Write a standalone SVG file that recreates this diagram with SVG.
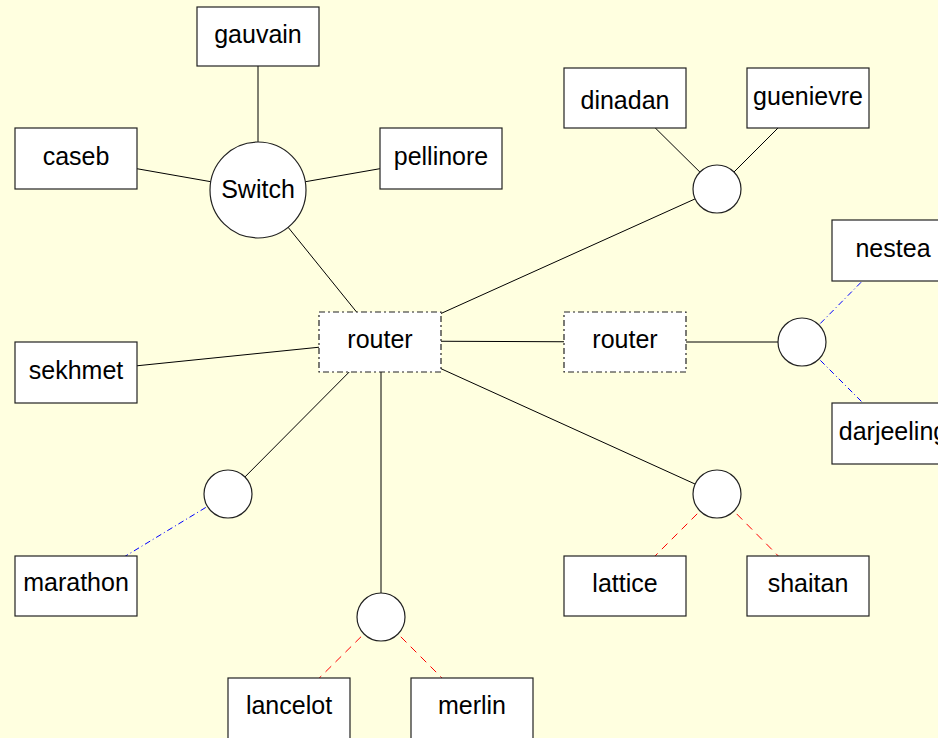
<svg xmlns="http://www.w3.org/2000/svg" width="938" height="738" viewBox="0 0 938 738">
<style>
.bg{fill:#ffffe0}
.box{fill:#fff;stroke:#222;stroke-width:1.2}
.rt{fill:#fff;stroke:#222;stroke-width:1.2;stroke-dasharray:6 3 2 3}
.hub{fill:#fff;stroke:#222;stroke-width:1.2}
.lbl{font-family:"Liberation Sans",Arial,sans-serif;font-size:25px;fill:#000;text-anchor:middle}
.e{stroke:#000;stroke-width:1;fill:none}
.red{stroke:#ff0000;stroke-width:1;stroke-dasharray:8 6;fill:none}
.blue{stroke:#0000ff;stroke-width:1;stroke-dasharray:6 3 1 3;fill:none}
</style>
<rect class="bg" x="0" y="0" width="938" height="738"/>
<g id="connectors">
<line class="e" x1="258" y1="37" x2="258" y2="190"/>
<line class="e" x1="76" y1="158" x2="258" y2="190"/>
<line class="e" x1="441" y1="158" x2="258" y2="190"/>
<line class="e" x1="258" y1="190" x2="380" y2="341"/>
<line class="e" x1="76" y1="372" x2="380" y2="341"/>
<line class="e" x1="380" y1="341" x2="717" y2="189"/>
<line class="e" x1="625" y1="98" x2="717" y2="189"/>
<line class="e" x1="808" y1="98" x2="717" y2="189"/>
<line class="e" x1="380" y1="341" x2="625" y2="342"/>
<line class="e" x1="625" y1="342" x2="802" y2="342"/>
<line class="blue" x1="802" y1="342" x2="893" y2="250"/>
<line class="blue" x1="802" y1="342" x2="893" y2="433"/>
<line class="e" x1="380" y1="341" x2="228" y2="494"/>
<line class="blue" x1="228" y1="494" x2="76" y2="586"/>
<line class="e" x1="381" y1="341" x2="381" y2="617"/>
<line class="red" x1="381" y1="617" x2="289" y2="708"/>
<line class="red" x1="381" y1="617" x2="472" y2="708"/>
<line class="e" x1="380" y1="341" x2="717" y2="494"/>
<line class="red" x1="717" y1="494" x2="625" y2="586"/>
<line class="red" x1="717" y1="494" x2="808" y2="586"/>
</g>
<g id="gauvain"><rect class="box" x="197" y="7" width="122" height="59"/><text class="lbl" x="258" y="43">gauvain</text></g>
<g id="caseb"><rect class="box" x="15" y="128" width="122" height="61"/><text class="lbl" x="76" y="165">caseb</text></g>
<g id="pellinore"><rect class="box" x="380" y="128" width="122" height="61"/><text class="lbl" x="441" y="165">pellinore</text></g>
<g id="switch"><circle class="hub" cx="258" cy="190" r="48"/><text class="lbl" x="258" y="198">Switch</text></g>
<g id="dinadan"><rect class="box" x="564" y="68" width="122" height="60"/><text class="lbl" x="625" y="109">dinadan</text></g>
<g id="guenievre"><rect class="box" x="747" y="68" width="122" height="60"/><text class="lbl" x="808" y="105">guenievre</text></g>
<g id="hub1"><circle class="hub" cx="717" cy="189" r="24"/></g>
<g id="router1"><rect class="rt" x="319" y="312" width="122" height="60"/><text class="lbl" x="380" y="348">router</text></g>
<g id="router2"><rect class="rt" x="564" y="312" width="122" height="60"/><text class="lbl" x="625" y="348">router</text></g>
<g id="hub2"><circle class="hub" cx="802" cy="342" r="24"/></g>
<g id="nestea"><rect class="box" x="832" y="220" width="122" height="61"/><text class="lbl" x="893" y="257">nestea</text></g>
<g id="darjeeling"><rect class="box" x="832" y="403" width="122" height="61"/><text class="lbl" x="893" y="440">darjeeling</text></g>
<g id="sekhmet"><rect class="box" x="15" y="342" width="122" height="61"/><text class="lbl" x="76" y="379">sekhmet</text></g>
<g id="hub3"><circle class="hub" cx="228" cy="494" r="24"/></g>
<g id="marathon"><rect class="box" x="15" y="556" width="122" height="60"/><text class="lbl" x="76" y="591">marathon</text></g>
<g id="hub4"><circle class="hub" cx="381" cy="617" r="24"/></g>
<g id="lancelot"><rect class="box" x="228" y="678" width="122" height="61"/><text class="lbl" x="289" y="714">lancelot</text></g>
<g id="merlin"><rect class="box" x="411" y="678" width="122" height="61"/><text class="lbl" x="472" y="714">merlin</text></g>
<g id="hub5"><circle class="hub" cx="717" cy="494" r="24"/></g>
<g id="lattice"><rect class="box" x="564" y="556" width="122" height="60"/><text class="lbl" x="625" y="592">lattice</text></g>
<g id="shaitan"><rect class="box" x="747" y="556" width="122" height="60"/><text class="lbl" x="808" y="592">shaitan</text></g>
</svg>
